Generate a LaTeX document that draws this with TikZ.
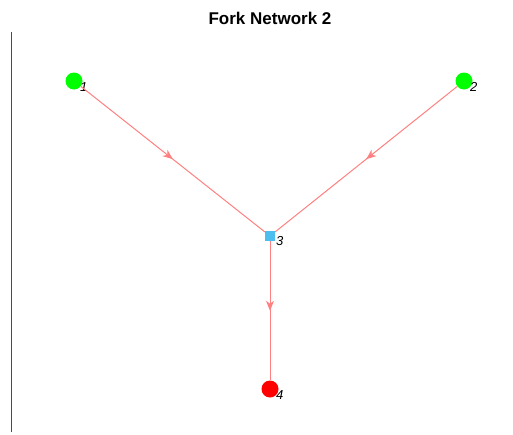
\documentclass[tikz,border=0pt]{standalone}
\usepackage{fontspec}
\setmainfont{Liberation Sans}
\usetikzlibrary{arrows.meta,decorations.markings}

\definecolor{linkred}{RGB}{255,128,128}
\definecolor{srcgreen}{RGB}{0,255,0}
\definecolor{sinkred}{RGB}{255,0,0}
\definecolor{joinblue}{RGB}{77,190,238}

\begin{document}
\begin{tikzpicture}[x=1pt, y=-1pt,
	src/.style={circle, fill=srcgreen, minimum size=17pt, inner sep=0pt},
	sink/.style={circle, fill=sinkred, minimum size=17pt, inner sep=0pt},
	junction/.style={rectangle, fill=joinblue, minimum size=10pt, inner sep=0pt},
	lbl/.style={anchor=west, inner sep=0pt, font=\fontsize{13}{15}\itshape},
	link/.style={draw=linkred, line width=1pt, postaction={decorate},
		decoration={markings, mark=at position 0.5 with {\arrow{Stealth[length=10pt, width=8pt, inset=3pt]}}}}]
	\useasboundingbox (0,0) rectangle (513,434);
	% axis line
	\draw[black!70, line width=0.8pt] (11,32) -- (11,432);
	\node[font=\fontsize{17}{20}\bfseries] (title) at (270,18) {Fork Network 2};
	% nodes
	\node[src] (n1) at (74,81) {};
	\node[src] (n2) at (464,81) {};
	\node[junction] (n3) at (270,236) {};
	\node[sink] (n4) at (270,389) {};
	\node[lbl] (l1) at ([xshift=6pt, yshift=-6pt]n1.center) {1};
	\node[lbl] (l2) at ([xshift=6pt, yshift=-6pt]n2.center) {2};
	\node[lbl] (l3) at ([xshift=6pt, yshift=-5pt]n3.center) {3};
	\node[lbl] (l4) at ([xshift=6pt, yshift=-6pt]n4.center) {4};
	% links
	\path[link] (n1) -- (n3);
	\path[link] (n2) -- (n3);
	\path[link] (n3) -- (n4);
\end{tikzpicture}
\end{document}
